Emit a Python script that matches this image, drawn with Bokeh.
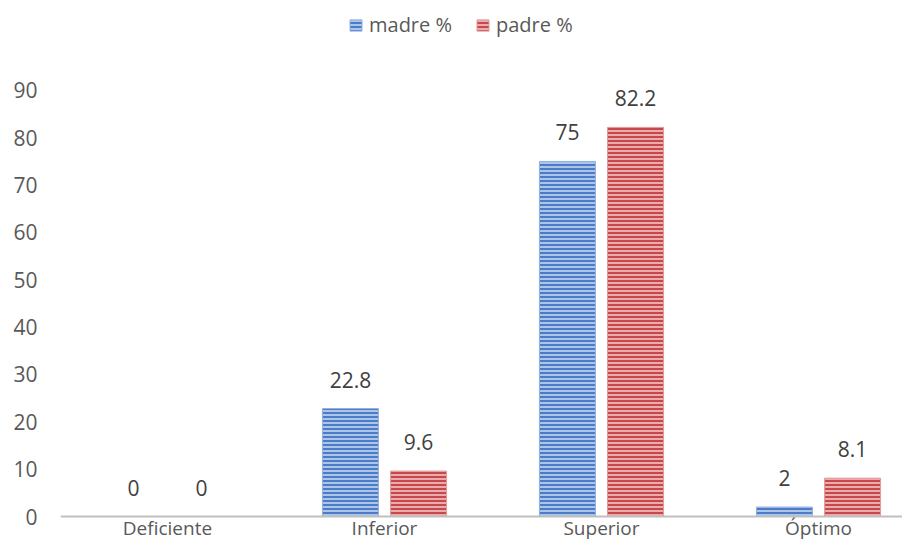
from bokeh.plotting import figure
from bokeh.models import ColumnDataSource, LabelSet, Legend, LegendItem, FixedTicker, Range1d, Span
from bokeh.core.properties import value
from bokeh.transform import dodge
from bokeh.embed import file_html
from bokeh.resources import INLINE

categories = ["Deficiente", "Inferior", "Superior", "Óptimo"]
madre = [0, 22.8, 75, 2]
padre = [0, 9.6, 82.2, 8.1]
yticks = [0, 10, 20, 30, 40, 50, 60, 70, 80, 90]

pos = list(range(len(categories)))
src = ColumnDataSource(dict(pos=pos, cat=categories, base=[0] * len(categories),
                            madre=madre, padre=padre,
                            madre_lbl=[f"{v:g}" for v in madre],
                            padre_lbl=[f"{v:g}" for v in padre]))

FONT = "Open Sans"
TXT = "#595959"

p = figure(x_range=Range1d(-0.493, 3.387), y_range=Range1d(-5.70, 109.0), width=902, height=543,
           output_backend="svg", toolbar_location=None,
           min_border_left=60, min_border_right=0, min_border_bottom=0, min_border_top=0)
p.outline_line_color = None
p.xgrid.grid_line_color = None
p.ygrid.grid_line_color = None
p.background_fill_color = "white"

# category axis baseline at 0
p.add_layout(Span(location=0, dimension="width", line_color="#BFBFBF", line_width=2))

bw = 0.258
off = 0.157
r1 = p.vbar(x=dodge("pos", -off), top="madre", width=bw, source=src,
            fill_color="#4A7CC8", line_color="#8FB0E0", line_width=1,
            hatch_pattern="-", hatch_color="white", hatch_alpha=0.55, hatch_scale=4, hatch_weight=2)
r2 = p.vbar(x=dodge("pos", off), top="padre", width=bw, source=src,
            fill_color="#C9474A", line_color="#E09A9B", line_width=1,
            hatch_pattern="-", hatch_color="white", hatch_alpha=0.55, hatch_scale=4, hatch_weight=2)

for col, lbl, o in (("madre", "madre_lbl", -off), ("padre", "padre_lbl", off)):
    ls = LabelSet(x=dodge("pos", o), y=col, text=lbl, source=src,
                  text_align="center", text_baseline="alphabetic", y_offset=21,
                  text_font=value(FONT), text_font_size="21px", text_color="#404040")
    p.add_layout(ls)

# category labels below the baseline
cl = LabelSet(x="pos", y="base", text="cat", source=src,
              text_align="center", text_baseline="top", y_offset=2,
              text_font=value(FONT), text_font_size="19px", text_color=TXT)
p.add_layout(cl)

p.xaxis.visible = False

p.yaxis.ticker = FixedTicker(ticks=yticks)
p.yaxis.axis_line_color = None
p.yaxis.major_tick_line_color = None
p.yaxis.major_tick_out = 0
p.yaxis.minor_tick_line_color = None
p.yaxis.major_label_text_font = FONT
p.yaxis.major_label_text_font_size = "21px"
p.yaxis.major_label_text_color = TXT
p.yaxis.major_label_standoff = 23

legend = Legend(items=[LegendItem(label="madre %", renderers=[r1]),
                       LegendItem(label="padre %", renderers=[r2])],
                orientation="horizontal", location=(288, 505),
                label_text_font=FONT, label_text_font_size="20px", label_text_color=TXT,
                glyph_width=15, glyph_height=14, spacing=23, label_standoff=6,
                border_line_color=None, background_fill_alpha=0, margin=0, padding=2)
p.add_layout(legend)

open("out.html", "w").write(file_html(p, INLINE))
